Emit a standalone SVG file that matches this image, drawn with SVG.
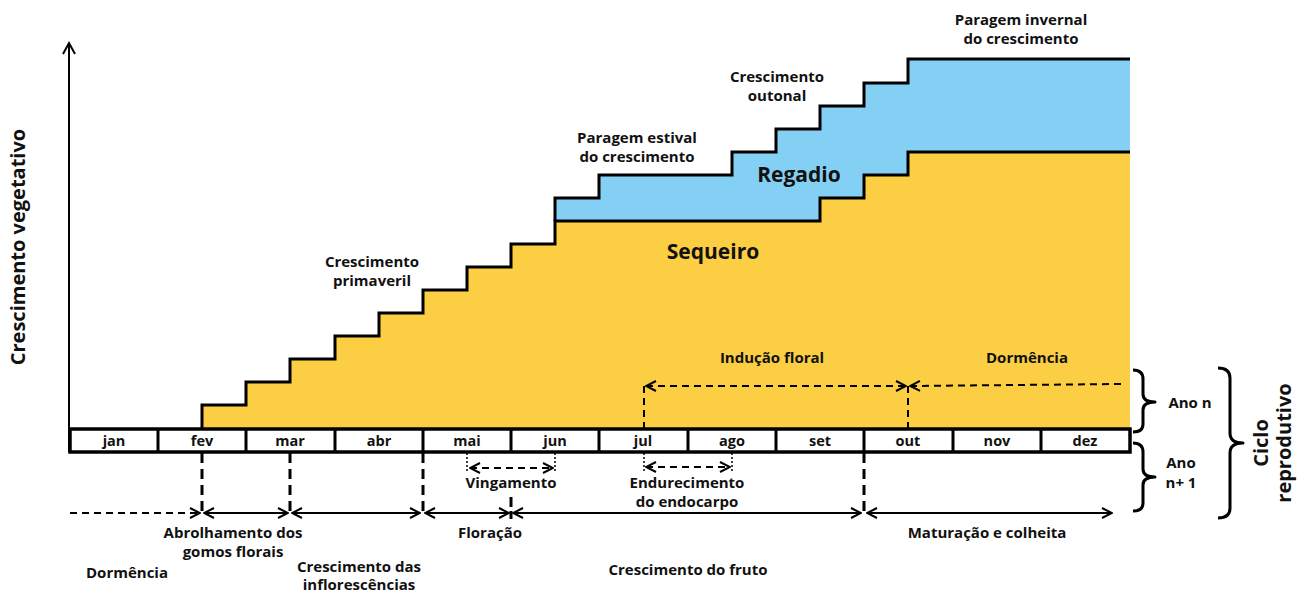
<svg xmlns="http://www.w3.org/2000/svg" width="1297" height="596" viewBox="0 0 1297 596">
<defs>
<style>
text{font-family:"Open Sans","Liberation Sans",sans-serif;font-weight:700;fill:#111;text-anchor:middle}
.t{font-size:15px}
.m{font-size:14.5px}
.big{font-size:20px}
.lab{font-size:21px}
.ln{stroke:#000;stroke-width:3;fill:none}
.th{stroke:#000;stroke-width:2;fill:none}
.dash{stroke:#000;stroke-width:2;fill:none;stroke-dasharray:7 5}
.vd{stroke:#000;stroke-width:3;fill:none;stroke-dasharray:10 6}
.dot{stroke:#000;stroke-width:1.5;fill:none;stroke-dasharray:2 2}
.br{stroke:#000;stroke-width:3;fill:none;stroke-linejoin:round}
</style>
<marker id="ah" viewBox="0 0 12 12" refX="11" refY="6" markerWidth="12" markerHeight="12" markerUnits="userSpaceOnUse" orient="auto-start-reverse">
<path d="M1,1 L11,6 L1,11" fill="none" stroke="#000" stroke-width="2"/>
</marker>
</defs>
<rect width="1297" height="596" fill="#fff"/>

<g id="sequeiro">
<path d="M202,429 V405 H246 V382 H290 V359 H335 V336 H379 V313 H423 V290 H467 V267 H511 V244 H555 V221 H820 V198 H864 V175 H908 V152 H1130 V429 Z" fill="#FCCE43"/>
<text class="lab" x="713" y="259">Sequeiro</text>
</g>
<g id="regadio">
<path d="M555,221 V198 H599 V175 H732 V152 H776 V129 H820 V106 H864 V83 H908 V59 H1130 V152 H908 V175 H864 V198 H820 V221 Z" fill="#84CFF4"/>
<text class="lab" x="799" y="182">Regadio</text>
</g>
<g id="outlines">
<path class="ln" d="M202,429 V405 H246 V382 H290 V359 H335 V336 H379 V313 H423 V290 H467 V267 H511 V244 H555 V221 H820 V198 H864 V175 H908 V152 H1130"/>
<path class="ln" d="M555,221 V198 H599 V175 H732 V152 H776 V129 H820 V106 H864 V83 H908 V59 H1130"/>
</g>

<g id="axis">
<line class="th" x1="69" y1="452" x2="69" y2="43"/>
<polyline class="th" points="63,54 69,43 75,54"/>
<text class="big" transform="translate(25,247) rotate(-90)">Crescimento vegetativo</text>
</g>

<g id="months">
<rect x="70" y="429" width="1060" height="23" fill="#fff" stroke="#000" stroke-width="3.5"/>
<path class="ln" d="M158,429V452 M246,429V452 M335,429V452 M423,429V452 M511,429V452 M599,429V452 M688,429V452 M776,429V452 M864,429V452 M953,429V452 M1041,429V452"/>
<text class="m" x="114" y="446">jan</text>
<text class="m" x="202" y="446">fev</text>
<text class="m" x="290" y="446">mar</text>
<text class="m" x="379" y="446">abr</text>
<text class="m" x="467" y="446">mai</text>
<text class="m" x="555" y="446">jun</text>
<text class="m" x="643" y="446">jul</text>
<text class="m" x="732" y="446">ago</text>
<text class="m" x="820" y="446">set</text>
<text class="m" x="908" y="446">out</text>
<text class="m" x="997" y="446">nov</text>
<text class="m" x="1085" y="446">dez</text>
</g>

<g id="labels-top">
<text class="t"><tspan x="372" y="267">Crescimento</tspan><tspan x="372" y="286">primaveril</tspan></text>
<text class="t"><tspan x="637" y="143">Paragem estival</tspan><tspan x="637" y="162">do crescimento</tspan></text>
<text class="t"><tspan x="777" y="82">Crescimento</tspan><tspan x="777" y="101">outonal</tspan></text>
<text class="t"><tspan x="1021" y="25">Paragem invernal</tspan><tspan x="1021" y="44">do crescimento</tspan></text>
<text class="t" x="772" y="363">Indução floral</text>
<text class="t" x="1027" y="363">Dormência</text>
</g>

<g id="connectors">
<line class="dash" x1="646" y1="386" x2="906" y2="386" marker-start="url(#ah)" marker-end="url(#ah)"/>
<line class="dash" x1="910" y1="386" x2="1122" y2="384" marker-start="url(#ah)"/>
<line class="dash" x1="644" y1="386" x2="644" y2="429" stroke-dasharray="5 3"/>
<line class="dash" x1="908" y1="386" x2="908" y2="429" stroke-dasharray="5 3"/>

<path class="vd" d="M202,453V517 M290,453V517 M423,453V517 M864,453V517"/>
<line x1="511" y1="497" x2="511" y2="519" stroke="#000" stroke-width="3" stroke-dasharray="10 4"/>
<path class="dot" d="M467,453V473 M555,453V473 M644,453V473 M732,453V473"/>
<line class="dash" x1="470" y1="468" x2="553" y2="468" stroke-dasharray="6 4" marker-start="url(#ah)" marker-end="url(#ah)"/>
<line class="dash" x1="646" y1="467" x2="730" y2="467" stroke-dasharray="6 4" marker-start="url(#ah)" marker-end="url(#ah)"/>

<line class="dash" x1="70" y1="513" x2="200" y2="513" marker-end="url(#ah)"/>
<line class="th" x1="204" y1="513" x2="288" y2="513" marker-start="url(#ah)" marker-end="url(#ah)"/>
<line class="th" x1="292" y1="513" x2="420" y2="513" marker-start="url(#ah)" marker-end="url(#ah)"/>
<line class="th" x1="425" y1="513" x2="509" y2="513" marker-start="url(#ah)" marker-end="url(#ah)"/>
<line class="th" x1="513" y1="513" x2="861" y2="513" marker-start="url(#ah)" marker-end="url(#ah)"/>
<line class="th" x1="867" y1="513" x2="1112" y2="513" marker-start="url(#ah)" marker-end="url(#ah)"/>
</g>

<g id="labels-bottom">
<text class="t" x="511" y="488">Vingamento</text>
<text class="t"><tspan x="687" y="488">Endurecimento</tspan><tspan x="687" y="507">do endocarpo</tspan></text>
<text class="t"><tspan x="233" y="538">Abrolhamento dos</tspan><tspan x="233" y="557">gomos florais</tspan></text>
<text class="t" x="490" y="538">Floração</text>
<text class="t" x="987" y="538">Maturação e colheita</text>
<text class="t" x="127" y="578">Dormência</text>
<text class="t"><tspan x="359" y="572">Crescimento das</tspan><tspan x="359" y="590">inflorescências</tspan></text>
<text class="t" x="688" y="575">Crescimento do fruto</text>
</g>

<g id="braces">
<path class="br" d="M1133,370 Q1143,370 1143,379 V394 Q1143,402 1155,402 Q1143,402 1143,410 V424 Q1143,432 1133,432"/>
<path class="br" d="M1133,443 Q1143,443 1143,452 V469 Q1143,477 1155,477 Q1143,477 1143,485 V503 Q1143,511 1133,511"/>
<path class="br" d="M1218,368 Q1230,368 1230,378 V433 Q1230,443 1243,443 Q1230,443 1230,453 V508 Q1230,518 1218,518"/>
<text class="t" x="1190" y="408">Ano n</text>
<text class="t"><tspan x="1181" y="468">Ano</tspan><tspan x="1181" y="488">n+ 1</tspan></text>
<text class="big" transform="translate(1268,443) rotate(-90)">Ciclo</text>
<text class="big" transform="translate(1291,443) rotate(-90)">reprodutivo</text>
</g>
</svg>
